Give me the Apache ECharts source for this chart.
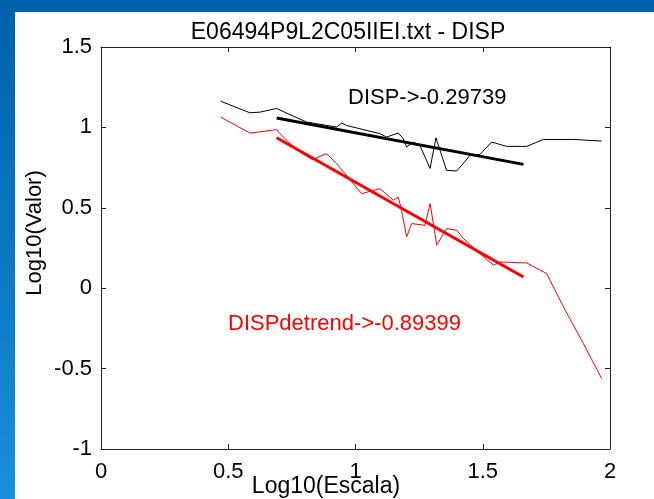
<!DOCTYPE html>
<html>
<head>
<meta charset="utf-8">
<script src="https://cdn.jsdelivr.net/npm/echarts@6/dist/echarts.min.js"></script>
<style>
    html, body { margin: 0; padding: 0; }
    #chart { width: 654px; height: 499px; }
</style>
</head>
<body>
<div id="chart"></div>
<script>
const xTicks = [0, 0.5, 1, 1.5, 2];
const yTicks = [-1, -0.5, 0, 0.5, 1, 1.5];

// curva DISP (negro fino)
const dispScale = [0.47, 0.585, 0.625, 0.69, 0.743, 0.808, 0.926, 0.946, 0.965, 1.096, 1.122, 1.168, 1.187, 1.201, 1.226, 1.253, 1.293, 1.316, 1.358, 1.398, 1.45, 1.489, 1.535, 1.594, 1.673, 1.738, 1.856, 1.862, 1.967];
const dispValue = [1.163, 1.091, 1.095, 1.118, 1.079, 1.033, 1.002, 1.027, 1.012, 0.961, 0.94, 0.965, 0.932, 0.878, 0.909, 0.888, 0.745, 0.935, 0.733, 0.729, 0.826, 0.832, 0.909, 0.882, 0.882, 0.925, 0.925, 0.915, 0.915];

// curva DISPdetrend (rojo fino)
const detrendScale = [0.47, 0.585, 0.618, 0.69, 0.703, 0.769, 0.83, 0.887, 0.926, 1.024, 1.096, 1.149, 1.168, 1.181, 1.201, 1.221, 1.273, 1.293, 1.299, 1.306, 1.319, 1.358, 1.398, 1.424, 1.496, 1.542, 1.568, 1.673, 1.751, 1.817, 1.895, 1.967];
const detrendValue = [1.064, 0.965, 0.971, 0.986, 0.961, 0.86, 0.8, 0.837, 0.774, 0.588, 0.619, 0.547, 0.567, 0.484, 0.319, 0.402, 0.391, 0.526, 0.536, 0.402, 0.267, 0.371, 0.36, 0.309, 0.205, 0.143, 0.163, 0.157, 0.091, -0.116, -0.343, -0.561];

// rectas de ajuste (extremos)
const dispFitScale = [0.69, 1.66];
const dispFitValue = [1.058, 0.77];
const detrendFitScale = [0.69, 1.66];
const detrendFitValue = [0.936, 0.07];

const zip = (xs, ys) => xs.map((x, i) => [x, ys[i]]);

const font = 'Liberation Sans, Arial, sans-serif';
const axisColor = '#222';

const axisLine = {
    show: true,
    onZero: false,
    lineStyle: { color: axisColor, width: 1 }
}

const axisTick = {
    show: true,
    inside: true,
    length: 5,
    lineStyle: { color: axisColor, width: 1 }
}

const xBase = {
    type: 'value',
    min: xTicks[0],
    max: xTicks[xTicks.length - 1],
    interval: 0.5,
    axisLine,
    axisTick,
    splitLine: { show: false }
}

const yBase = {
    type: 'value',
    min: yTicks[0],
    max: yTicks[yTicks.length - 1],
    interval: 0.5,
    axisLine,
    axisTick,
    splitLine: { show: false }
}

const option = {
    animation: false,
    backgroundColor: new echarts.graphic.LinearGradient(0, 0, 0, 1, [
        { offset: 0, color: '#0060aa' },
        { offset: 1, color: '#1a8edc' }
    ]),
    grid: { left: 101, right: 44, top: 47, bottom: 50 },
    xAxis: [
        Object.assign({}, xBase, {
            position: 'bottom',
            axisLabel: {
                color: '#000', fontSize: 22, fontFamily: font, margin: 12,
                showMinLabel: true, showMaxLabel: true
            }
        }),
        Object.assign({}, xBase, { position: 'top', axisLabel: { show: false } })
    ],
    yAxis: [
        Object.assign({}, yBase, {
            position: 'left',
            axisLabel: {
                color: '#000', fontSize: 22, fontFamily: font, margin: 9,
                showMinLabel: true, showMaxLabel: true
            }
        }),
        Object.assign({}, yBase, { position: 'right', axisLabel: { show: false } })
    ],
    graphic: [
        {
            type: 'rect', z: -10, silent: true,
            shape: { x: 15, y: 12, width: 639, height: 487 },
            style: { fill: '#fff' }
        },
        {
            type: 'text', x: 348, y: 33,
            style: {
                text: 'E06494P9L2C05IIEI.txt - DISP', fill: '#000',
                font: '23px ' + font, textAlign: 'center', textVerticalAlign: 'middle'
            }
        },
        {
            type: 'text', x: 326, y: 487,
            style: {
                text: 'Log10(Escala)', fill: '#000',
                font: '23px ' + font, textAlign: 'center', textVerticalAlign: 'middle'
            }
        },
        {
            type: 'text', x: 35, y: 233, rotation: Math.PI / 2,
            style: {
                text: 'Log10(Valor)', fill: '#000',
                font: '22px ' + font, textAlign: 'center', textVerticalAlign: 'middle'
            }
        },
        {
            type: 'text', x: 348, y: 98,
            style: {
                text: 'DISP->-0.29739', fill: '#000',
                font: '22px ' + font, textAlign: 'left', textVerticalAlign: 'middle'
            }
        },
        {
            type: 'text', x: 228, y: 324,
            style: {
                text: 'DISPdetrend->-0.89399', fill: '#ff0000',
                font: '22px ' + font, textAlign: 'left', textVerticalAlign: 'middle'
            }
        }
    ],
    series: [
        {
            name: 'DISP',
            type: 'line',
            symbol: 'none',
            lineStyle: { color: '#000', width: 1 },
            data: zip(dispScale, dispValue)
        },
        {
            name: 'DISPdetrend',
            type: 'line',
            symbol: 'none',
            lineStyle: { color: '#ff0000', width: 1 },
            data: zip(detrendScale, detrendValue)
        },
        {
            name: 'DISP ajuste',
            type: 'line',
            symbol: 'none',
            lineStyle: { color: '#000', width: 3 },
            data: zip(dispFitScale, dispFitValue)
        },
        {
            name: 'DISPdetrend ajuste',
            type: 'line',
            symbol: 'none',
            lineStyle: { color: '#ff0000', width: 3 },
            data: zip(detrendFitScale, detrendFitValue)
        }
    ]
}

const chart = echarts.init(document.getElementById('chart'));
chart.setOption(option);
window.addEventListener('resize', () => {
    chart.resize();
})
</script>
</body>
</html>
